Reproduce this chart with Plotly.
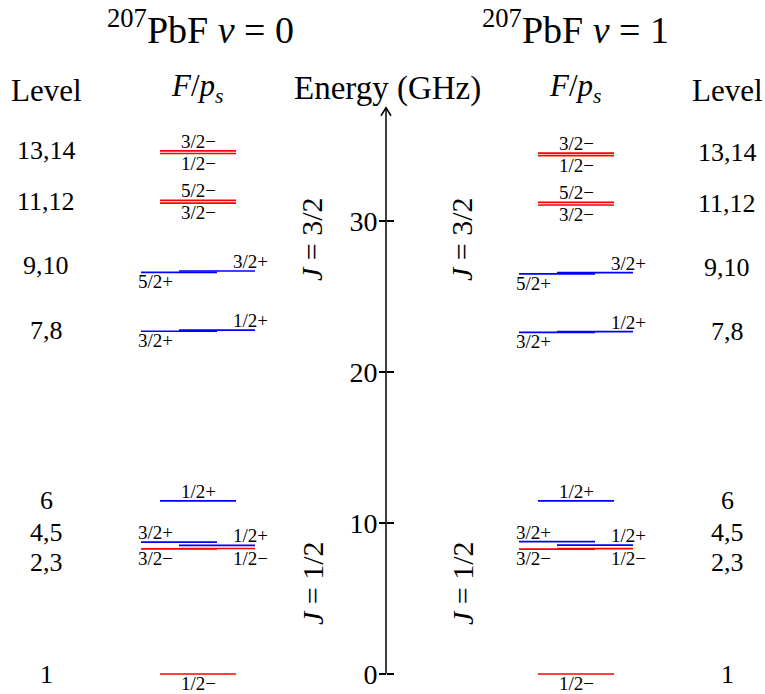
import plotly.graph_objects as go

# ---------------------------------------------------------------
# Hyperfine / parity level structure of 207PbF, X1 state, v = 0 and v = 1
# ---------------------------------------------------------------
LEVEL_IDS = list(range(1, 15))
F_LABELS = ["1/2−", "3/2−", "1/2−", "3/2+", "1/2+", "1/2+", "3/2+",
            "1/2+", "5/2+", "3/2+", "3/2−", "5/2−", "1/2−", "3/2−"]
ENERGY_V0 = [0.00, 8.28, 8.31, 8.74, 8.52, 11.47, 22.70,
             22.77, 26.60, 26.69, 31.19, 31.36, 34.47, 34.64]   # GHz
ENERGY_V1 = [0.00, 8.27, 8.30, 8.76, 8.54, 11.47, 22.62,
             22.68, 26.50, 26.58, 31.06, 31.23, 34.33, 34.50]   # GHz

ROW_LABELS = ["1", "2,3", "4,5", "6", "7,8", "9,10", "11,12", "13,14"]
ROW_MEMBERS = [[1], [2, 3], [4, 5], [6], [7, 8], [9, 10], [11, 12], [13, 14]]

ENERGY_TICKS = [0, 10, 20, 30]
AXIS_TOP = 37.5

PANEL_TITLES = ["<sup>207</sup>PbF <i>v</i> = 0", "<sup>207</sup>PbF <i>v</i> = 1"]

# ---------------------------------------------------------------
# Drawing layout (pixels)
# ---------------------------------------------------------------
W, H = 765, 694
Y0_PX = 674            # vertical pixel of 0 GHz
PX_PER_GHZ = 15.1
AXIS_X = 386
PANEL_SHIFT = 378      # horizontal offset of the v = 1 panel

# where each level sits: c = centred, l = left half, r = right half
SLOT = ["c", "l", "r", "l", "r", "c", "l", "r", "l", "r", "c", "c", "c", "c"]
LABEL_SIDE = ["below", "below", "below", "above", "above", "above", "below",
              "above", "below", "above", "below", "above", "below", "above"]
SLOT_X = {"c": (160, 236), "l": (141, 217), "r": (179, 255)}
LABEL_X = {"c": (198, "center"), "l": (136, "left"), "r": (270, "right")}
ROW_NUDGE = [0, -14, 11, 0, 0, 6, 0, 2]     # px, keeps row numbers apart
ROW_X = [46, 727]

SERIF = "Liberation Serif"
RED, BLUE = "#ff0000", "#0000ff"


def colour(label):
    return RED if label.endswith("−") else BLUE


def px_to_paper(py):
    return 1 - py / H


fig = go.Figure()
annotations = []

for panel, energies in enumerate([ENERGY_V0, ENERGY_V1]):
    dx = panel * PANEL_SHIFT
    for col in (RED, BLUE):
        xs, ys = [], []
        for i, lab in enumerate(F_LABELS):
            if colour(lab) != col:
                continue
            x0, x1 = SLOT_X[SLOT[i]]
            xs += [x0 + dx, x1 + dx, None]
            ys += [energies[i], energies[i], None]
        fig.add_trace(go.Scatter(
            x=xs, y=ys, mode="lines",
            line=dict(color=col, width=1.7),
            hoverinfo="skip", showlegend=False))

    # F / parity labels
    for i, lab in enumerate(F_LABELS):
        lx, anchor = LABEL_X[SLOT[i]]
        annotations.append(dict(
            x=lx + dx, y=energies[i], xref="x", yref="y",
            text=lab, showarrow=False, xanchor=anchor, yanchor="middle",
            yshift=9.5 if LABEL_SIDE[i] == "above" else -9.5,
            font=dict(family=SERIF, size=19, color="black")))

    # level numbers
    for r, (row, members) in enumerate(zip(ROW_LABELS, ROW_MEMBERS)):
        ey = sum(energies[m - 1] for m in members) / len(members)
        annotations.append(dict(
            x=ROW_X[panel], y=ey, xref="x", yref="y", text=row,
            showarrow=False, xanchor="center", yanchor="middle",
            yshift=ROW_NUDGE[r],
            font=dict(family=SERIF, size=26, color="black")))

    # column headers and panel title
    annotations.append(dict(
        x=ROW_X[panel], y=px_to_paper(90), xref="x", yref="paper",
        text="Level", showarrow=False, xanchor="center", yanchor="middle",
        font=dict(family=SERIF, size=31, color="black")))
    annotations.append(dict(
        x=197 + dx, y=px_to_paper(88), xref="x", yref="paper",
        text="<i>F</i>/<i>p<sub>s</sub></i>", showarrow=False,
        xanchor="center", yanchor="middle",
        font=dict(family=SERIF, size=31, color="black")))
    annotations.append(dict(
        x=200 + dx - (3 if panel else 0), y=px_to_paper(1), xref="x",
        yref="paper", text=PANEL_TITLES[panel], showarrow=False,
        xanchor="center", yanchor="top",
        font=dict(family=SERIF, size=38, color="black")))

    # rotational manifold labels
    for jtxt, py in (("<i>J</i> = 3/2", 239), ("<i>J</i> = 1/2", 583)):
        annotations.append(dict(
            x=312 + panel * 150, y=px_to_paper(py), xref="x", yref="paper",
            text=jtxt, showarrow=False, textangle=-90,
            xanchor="center", yanchor="middle",
            font=dict(family=SERIF, size=30, color="black")))

annotations.append(dict(
    x=AXIS_X + 1, y=px_to_paper(88), xref="x", yref="paper",
    text="Energy (GHz)", showarrow=False, xanchor="center", yanchor="middle",
    font=dict(family=SERIF, size=33, color="black")))

# energy axis: shaft from 0 to the top, with an open arrow head
head_dy = 8 / PX_PER_GHZ
fig.add_trace(go.Scatter(
    x=[AXIS_X, AXIS_X, None, AXIS_X - 5, AXIS_X, AXIS_X + 5],
    y=[0, AXIS_TOP, None, AXIS_TOP - head_dy, AXIS_TOP, AXIS_TOP - head_dy],
    mode="lines", line=dict(color="black", width=1.5),
    hoverinfo="skip", showlegend=False))

y_lo = -(H - Y0_PX) / PX_PER_GHZ
y_hi = Y0_PX / PX_PER_GHZ
axis_pos = AXIS_X / W

common_y = dict(range=[y_lo, y_hi], domain=[0, 1], automargin=False,
                anchor="free", position=axis_pos, showgrid=False,
                zeroline=False, showline=False, tickvals=ENERGY_TICKS,
                ticklen=7, tickwidth=1.5, tickcolor="black")

fig.update_layout(
    width=W, height=H, autosize=False,
    margin=dict(l=0, r=0, t=0, b=0, pad=0),
    paper_bgcolor="white", plot_bgcolor="white",
    showlegend=False,
    xaxis=dict(range=[0, W], domain=[0, 1], visible=False, fixedrange=True,
               automargin=False),
    yaxis=dict(**common_y, ticks="outside", ticklabelstandoff=-4,
               tickfont=dict(family=SERIF, size=28, color="black")),
    yaxis2=dict(**common_y, overlaying="y", ticks="inside",
                showticklabels=False),
    annotations=annotations,
)

# empty trace bound to the inside-tick axis so it is rendered
fig.add_trace(go.Scatter(x=[None], y=[None], yaxis="y2", showlegend=False,
                         hoverinfo="skip"))

fig.write_html("out.html")
